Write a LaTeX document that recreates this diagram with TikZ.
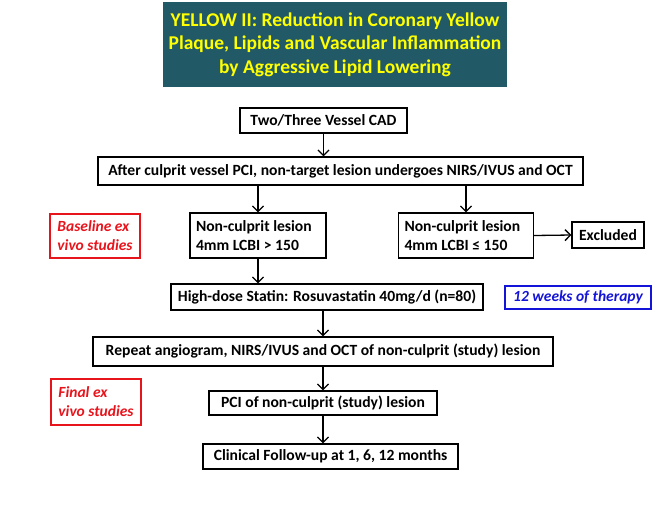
\documentclass[tikz,border=0pt]{standalone}
\usepackage{fontspec}
\setmainfont{Carlito}
\usetikzlibrary{arrows.meta}
\definecolor{titlebg}{HTML}{215967}
\definecolor{titlefg}{HTML}{FFFF00}
\definecolor{redbox}{HTML}{E8141C}
\definecolor{bluebox}{HTML}{1414D8}
\begin{document}
\begin{tikzpicture}[x=1pt,y=-1pt,
  every node/.style={font=\fontsize{15.6}{18.5}\selectfont\bfseries},
  flowbox/.style={draw=black,line width=1.2pt,minimum height=#1,inner sep=0pt,align=center},
  flowbox/.default=28pt,
  sidebox/.style={draw=#1,text=#1,line width=2.2pt,inner sep=0pt,font=\fontsize{15.5}{19}\selectfont\bfseries\itshape},
  conn/.style={line width=1.3pt,-{Straight Barb[length=5.5pt,width=11pt]}}
]
\useasboundingbox (0,0) rectangle (665,512);
\node[fill=titlebg,text=titlefg,minimum width=344pt,minimum height=85pt,align=center,
  font=\fontsize{19.5}{23.5}\selectfont\bfseries] (title) at (335,44.5)
  {YELLOW II: Reduction in Coronary Yellow\\Plaque, Lipids and Vascular Inflammation\\by Aggressive Lipid Lowering};
\node[flowbox=25pt,minimum width=167pt] (cad) at (323.5,120.5) {Two/Three Vessel CAD};
\node[flowbox=28pt,minimum width=485pt] (after) at (340.5,171) {After culprit vessel PCI, non-target lesion undergoes NIRS/IVUS and OCT};
\node[flowbox=45pt,text width=124pt,align=flush left,inner xsep=6pt] (ncl) at (258,235.5) {Non-culprit lesion\\4mm LCBI > 150};
\node[flowbox=45pt,text width=123pt,align=flush left,inner xsep=6pt] (ncr) at (466,235.5) {Non-culprit lesion\\4mm LCBI ≤ 150};
\node[flowbox=26pt,minimum width=72pt] (excl) at (608,235) {Excluded};
\node[sidebox=redbox,minimum height=44pt,minimum width=90pt,align=left] (base) at (95,236) {Baseline ex\\vivo studies};
\node[flowbox=26pt,minimum width=312pt] (statin) at (327,297) {High-dose Statin: Rosuvastatin 40mg/d (n=80)};
\node[sidebox=bluebox,minimum width=146pt,minimum height=23pt] (weeks) at (578,297.5) {12 weeks of therapy};
\node[flowbox=29pt,minimum width=460pt] (repeat) at (323,351.5) {Repeat angiogram, NIRS/IVUS and OCT of non-culprit (study) lesion};
\node[sidebox=redbox,minimum height=46pt,minimum width=90pt,align=left] (final) at (96,402) {Final ex\\vivo studies};
\node[flowbox=24pt,minimum width=228pt] (pci) at (323,403) {PCI of non-culprit (study) lesion};
\node[flowbox=25pt,minimum width=255pt] (clin) at (330.5,456.5) {Clinical Follow-up at 1, 6, 12 months};
\draw[conn] (cad.south) -- (cad.south |- after.north);
\draw[conn] (ncl.north |- after.south) -- (ncl.north);
\draw[conn] (ncr.north |- after.south) -- (ncr.north);
\draw[conn] (ncr.east) -- (excl.west);
\draw[conn] (ncl.south) -- (ncl.south |- statin.north);
\draw[conn] (repeat.north |- statin.south) -- (repeat.north);
\draw[conn] (repeat.south) -- (repeat.south |- pci.north);
\draw[conn] (pci.south) -- (pci.south |- clin.north);
\end{tikzpicture}
\end{document}
